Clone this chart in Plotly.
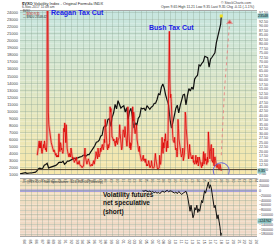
import pandas as pd
import plotly.graph_objects as go

# ---------------- data ----------------
dji_dates = ["1983-01-14"] + [d.strftime("%Y-%m-%d") for d in pd.date_range("1983-03-31", "2017-09-30", freq="QE")] + ["2017-11-06"]
dji_values = [1076,
    1130, 1222, 1233, 1259,
    1165, 1132, 1207, 1212,
    1267, 1336, 1329, 1547,
    1819, 1893, 1768, 1896,
    2305, 2419, 2596, 1939,
    1988, 2142, 2113, 2169,
    2294, 2440, 2693, 2753,
    2707, 2881, 2453, 2634,
    2914, 2907, 3017, 3169,
    3236, 3319, 3272, 3301,
    3436, 3516, 3555, 3754,
    3636, 3625, 3843, 3834,
    4158, 4556, 4789, 5117,
    5588, 5655, 5882, 6448,
    6584, 7673, 7945, 7908,
    8800, 8952, 7843, 9181,
    9786, 10970, 10337, 11497,
    10922, 10448, 10651, 10787,
    9879, 10502, 8848, 10022,
    10404, 9243, 7592, 8342,
    7992, 8985, 9275, 10454,
    10358, 10435, 10080, 10783,
    10504, 10275, 10569, 10718,
    11109, 11150, 11679, 12463,
    12354, 13408, 13896, 13265,
    12263, 11350, 10851, 8776,
    7609, 8447, 9712, 10428,
    10857, 9774, 10788, 11578,
    12320, 12414, 10913, 12218,
    13212, 12880, 13437, 13104,
    14579, 14910, 15130, 16577,
    16458, 16827, 17043, 17823,
    17776, 17620, 16285, 17425,
    17685, 17930, 18308, 19763,
    20663, 21350, 22405, 23548]

vxo_dates = [d.strftime("%Y-%m-15") for d in pd.date_range("1986-01-01", "2017-10-01", freq="MS")] + ["2017-11-06"]
vxo_values = [
    18, 20, 22, 24, 26, 22, 25, 22, 26, 20, 19, 21,          # 1986
    23, 24, 22, 26, 24, 21, 22, 20, 25, 150, 49, 42,         # 1987
    35, 32, 30, 28, 27, 25, 24, 23, 22, 21, 20, 21,          # 1988
    20, 19, 18, 19, 17, 18, 17, 18, 17, 30, 22, 20,          # 1989
    25, 24, 21, 22, 20, 19, 20, 33, 31, 36, 28, 25,          # 1990
    35, 24, 22, 20, 19, 18, 17, 19, 18, 17, 22, 19,          # 1991
    17, 16, 17, 16, 15, 14, 15, 16, 15, 17, 15, 13,          # 1992
    14, 13, 14, 15, 13, 12, 12, 12, 12, 11, 12, 12,          # 1993
    12, 15, 20, 22, 17, 16, 14, 13, 14, 15, 16, 15,          # 1994
    13, 12, 12, 12, 13, 13, 12, 13, 13, 15, 13, 14,          # 1995
    16, 17, 20, 18, 17, 16, 22, 19, 17, 18, 19, 22,          # 1996
    20, 22, 23, 24, 22, 21, 23, 27, 25, 38, 30, 26,          # 1997
    26, 22, 21, 24, 22, 23, 25, 45, 42, 44, 30, 28,          # 1998
    28, 27, 26, 27, 26, 25, 23, 26, 25, 28, 24, 25,          # 1999
    27, 27, 28, 35, 30, 26, 22, 21, 22, 30, 32, 32,          # 2000
    29, 28, 34, 30, 27, 23, 23, 26, 45, 38, 30, 24,          # 2001
    22, 25, 21, 23, 25, 33, 45, 37, 42, 40, 32, 30,          # 2002
    32, 33, 35, 27, 23, 21, 21, 20, 23, 19, 17, 17,          # 2003
    15, 15, 17, 17, 18, 15, 16, 15, 14, 16, 13, 12,          # 2004
    13, 12, 13, 15, 14, 12, 11, 12, 12, 15, 11, 11,          # 2005
    11, 11, 11, 12, 17, 19, 16, 13, 12, 11, 10, 11,          # 2006
    11, 11, 18, 13, 13, 16, 21, 28, 21, 19, 25, 22,          # 2007
    27, 26, 30, 22, 20, 25, 26, 22, 45, 75, 87, 60,          # 2008
    50, 52, 48, 38, 32, 29, 26, 26, 25, 28, 24, 21,          # 2009
    22, 20, 17, 20, 38, 33, 27, 25, 23, 21, 20, 17,          # 2010
    18, 19, 22, 15, 16, 18, 22, 42, 40, 33, 30, 25,          # 2011
    20, 18, 16, 18, 24, 20, 18, 16, 16, 17, 16, 18,          # 2012
    14, 15, 13, 14, 14, 18, 13, 15, 14, 17, 12, 13,          # 2013
    17, 15, 15, 14, 12, 11, 14, 12, 15, 20, 13, 17,          # 2014
    19, 15, 16, 13, 13, 17, 14, 31, 25, 16, 16, 20,          # 2015
    23, 24, 15, 15, 14, 22, 13, 12, 17, 17, 15, 12,          # 2016
    11.5, 11, 12, 13, 10.5, 10, 9.8, 13, 10, 9.7, 9.35]      # 2017

proj_dates = ["2017-11-06", "2018-06-01", "2019-04-15"]
proj_values = [18, 55, 92]

cot_dates = [
    "2004-03-26", "2004-06-30", "2004-09-30", "2004-12-31",
    "2005-03-31", "2005-06-30", "2005-09-30", "2005-12-31",
    "2006-03-31", "2006-06-30", "2006-09-30", "2006-12-31",
    "2007-03-31", "2007-06-30", "2007-09-30", "2007-12-31",
    "2008-03-31", "2008-06-30", "2008-09-30", "2008-12-31",
    "2009-03-31", "2009-06-30", "2009-09-30", "2009-12-31",
    "2010-03-31", "2010-06-30", "2010-09-30", "2010-12-31",
    "2011-03-31", "2011-06-30", "2011-09-30", "2011-12-31",
    "2012-02-15", "2012-04-15", "2012-06-15", "2012-08-15", "2012-10-15", "2012-12-15",
    "2013-02-15", "2013-04-15", "2013-06-15", "2013-08-15", "2013-10-15", "2013-12-15",
    "2014-02-15", "2014-04-15", "2014-06-15", "2014-08-15", "2014-10-15", "2014-12-15",
    "2015-02-15", "2015-04-15", "2015-06-15", "2015-08-15", "2015-10-15", "2015-12-15",
    "2016-02-15", "2016-04-15", "2016-06-15", "2016-08-15", "2016-10-15", "2016-12-15",
    "2017-02-15", "2017-04-15", "2017-06-15", "2017-08-15", "2017-09-15", "2017-10-15", "2017-11-06"]
cot_values = [
    0, -2000, 1500, -3000,
    -4000, -1000, -6000, -3000,
    -8000, -5000, -10000, -6000,
    -12000, -4000, -2000, -6000,
    -3000, 2000, -4000, 0,
    -2000, -6000, -9000, -5000,
    -12000, -3000, -8000, -15000,
    -10000, -5000, -2000, -20000,
    -45000, -70000, -85000, -60000, -95000, -112000,
    -100000, -70000, -80000, -60000, -90000, -75000,
    -85000, -60000, -40000, -50000, -20000, 0,
    -10000, 5000, 20000, 36000, 10000, 25000,
    12000, -20000, -40000, -70000, -60000, -95000,
    -116000, -100000, -140000, -150000, -168000, -186000, -175000]
cot_last_label = -124762

# ---------------- geometry helpers ----------------
W, H = 280, 252
ML, MR, MT, MB = 14, 14, 11, 7
PW, PH = W - ML - MR, H - MT - MB
def px(xp): return (xp - ML) / PW
def py(yp): return (H - MB - yp) / PH

main_dom = [py(181), 1.0]
low_dom = [0.0, py(186)]
FONT = "Liberation Sans, Arial, sans-serif"

fig = go.Figure()

# VXO (pink halo + red line)
fig.add_trace(go.Scatter(x=vxo_dates, y=vxo_values, yaxis="y2", xaxis="x", mode="lines",
                         line=dict(color="rgba(240,110,110,0.45)", width=2.6), hoverinfo="skip"))
fig.add_trace(go.Scatter(x=vxo_dates, y=vxo_values, yaxis="y2", xaxis="x", mode="lines",
                         line=dict(color="#e00000", width=0.8)))
# projection
fig.add_trace(go.Scatter(x=proj_dates, y=proj_values, yaxis="y2", xaxis="x", mode="lines+markers",
                         line=dict(color="#e87878", width=0.8, dash="dot"),
                         marker=dict(symbol=["circle", "circle", "triangle-up"], size=[0, 0, 5], color="#e02020")))
# DJIA
fig.add_trace(go.Scatter(x=dji_dates, y=dji_values, yaxis="y", xaxis="x", mode="lines",
                         line=dict(color="#101010", width=1.2)))
fig.add_trace(go.Scatter(x=[dji_dates[-1]], y=[dji_values[-1]], yaxis="y", xaxis="x", mode="markers",
                         marker=dict(color="#f0e020", size=3, symbol="square")))
# COT net speculative
fig.add_trace(go.Scatter(x=cot_dates, y=cot_values, yaxis="y3", xaxis="x2", mode="lines",
                         line=dict(color="#101010", width=1.0)))

shapes = []
# gradient backgrounds
N = 40
c0, c1 = (200, 230, 224), (247, 232, 172)
for i in range(N):
    t = i / (N - 1)
    col = tuple(int(c0[k] + (c1[k] - c0[k]) * t) for k in range(3))
    y1 = main_dom[1] - (main_dom[1] - main_dom[0]) * i / N
    y0 = main_dom[1] - (main_dom[1] - main_dom[0]) * (i + 1) / N
    shapes.append(dict(type="rect", xref="paper", yref="paper", x0=0, x1=1, y0=y0, y1=y1,
                       fillcolor="rgb(%d,%d,%d)" % col, line=dict(width=0), layer="below"))
d0, d1 = (243, 224, 190), (240, 217, 200)
for i in range(20):
    t = i / 19
    col = tuple(int(d0[k] + (d1[k] - d0[k]) * t) for k in range(3))
    y1 = low_dom[1] - (low_dom[1] - low_dom[0]) * i / 20
    y0 = low_dom[1] - (low_dom[1] - low_dom[0]) * (i + 1) / 20
    shapes.append(dict(type="rect", xref="paper", yref="paper", x0=0, x1=1, y0=y0, y1=y1,
                       fillcolor="rgb(%d,%d,%d)" % col, line=dict(width=0), layer="below"))
# horizontal reference line at VXO 10
shapes.append(dict(type="line", xref="x domain", yref="y2", x0=0, x1=1, y0=10, y1=10,
                   line=dict(color="#4a3a28", width=1)))
# zero line in the lower panel
shapes.append(dict(type="line", xref="x2 domain", yref="y3", x0=0, x1=1, y0=0, y1=0,
                   line=dict(color="#a8a0dc", width=2.5), layer="below"))
# blue circle around last VXO value
shapes.append(dict(type="circle", xref="x", yref="y2", xsizemode="pixel", ysizemode="pixel",
                   xanchor=vxo_dates[-1], yanchor=vxo_values[-1], x0=-8, x1=8, y0=-8, y1=8,
                   line=dict(color="#4040e0", width=0.8)))

ann = []
def txt(x, y, s, size=4, color="#222", xanchor="left", bold=False, **kw):
    ann.append(dict(xref="paper", yref="paper", x=px(x), y=py(y), text=("<b>%s</b>" % s) if bold else s,
                    showarrow=False, xanchor=xanchor, yanchor="middle",
                    font=dict(family=FONT, size=size, color=color), **kw))

txt(14, 2.8, "<b>$VXO</b> Volatility Index - Original Formula INDX", 4)
txt(14, 7, "6-Nov-2017 11:48 am", 3.4, "#444")
txt(262, 2.5, "© StockCharts.com", 3.5, "#444", xanchor="right")
txt(265, 7, "Open 9.65 High 11.21 Low 9.35 Last 9.35 Chg -0.11 (-1.1%)", 3.5, "#333", xanchor="right")
txt(15, 11, "$VXO", 2.7, "#333")
txt(15, 14, "— $VXO 9.35", 2.7, "#d00000")
txt(15, 17, "— $INDU 23548.42", 2.7, "#222")
txt(45, 13.5, "Reagan Tax Cut", 7, "#2020e8", bold=True)
txt(149, 28.5, "Bush Tax Cut", 7, "#2020e8", bold=True)
txt(14, 188.5, "— @VX:COT Net Speculative -124,762.00 (Weekly)", 3.5, "#333")
ann.append(dict(xref="paper", yref="paper", x=px(100), y=py(211), xanchor="left", yanchor="middle",
                text="<b>Volatility futures<br>net speculative<br>(short)</b>", showarrow=False, align="left",
                font=dict(family=FONT, size=6.5, color="#111")))
# last-value tags on right axis
ann.append(dict(xref="paper", yref="y", x=1.0, y=dji_values[-1], xanchor="left", yanchor="middle",
                text="%.0f" % dji_values[-1], showarrow=False, bgcolor="#8cc4c4",
                font=dict(family=FONT, size=3.6, color="#111"), borderpad=0))
ann.append(dict(xref="paper", yref="y2", x=1.0, y=vxo_values[-1], xanchor="left", yanchor="middle",
                text="%.2f" % vxo_values[-1], showarrow=False, bgcolor="#8cc4c4",
                font=dict(family=FONT, size=3.6, color="#111"), borderpad=0))
ann.append(dict(xref="paper", yref="y3", x=1.0, y=cot_last_label, xanchor="left", yanchor="middle",
                text="%d" % cot_last_label, showarrow=False, bgcolor="#8cc4c4",
                font=dict(family=FONT, size=3.6, color="#111"), borderpad=0))

grid = "rgba(140,165,150,0.35)"
xcommon = dict(type="date", range=["1983-01-20", "2024-01-10"], dtick="M12", tick0="1984-01-01",
               tickformat="%y", tickfont=dict(family=FONT, size=4, color="#444"), ticks="",
               showgrid=True, gridcolor=grid, gridwidth=0.5, showline=True, linecolor="#a8a8a8",
               linewidth=0.5, mirror=True, ticklabelstandoff=0)

fig.update_layout(
    width=W, height=H, margin=dict(l=ML, r=MR, t=MT, b=MB),
    paper_bgcolor="white", plot_bgcolor="rgba(0,0,0,0)", showlegend=False,
    xaxis=dict(domain=[0, 1], anchor="y", **xcommon),
    xaxis2=dict(domain=[0, 1], anchor="y3", matches="x", **xcommon),
    yaxis=dict(domain=main_dom, range=[1000, 24270], dtick=1000, tick0=1000, side="left",
               tickfont=dict(family=FONT, size=4, color="#444"), ticks="", tickformat="d",
               showgrid=True, gridcolor=grid, gridwidth=0.5, zeroline=False, ticklabelstandoff=1),
    yaxis2=dict(overlaying="y", side="right", anchor="x", range=[7.3, 98.3], tick0=10, dtick=2.5,
                tickformat=".2f", tickfont=dict(family=FONT, size=3.6, color="#444"), ticks="",
                showgrid=False, zeroline=False, ticklabelstandoff=1),
    yaxis3=dict(domain=low_dom, anchor="x2", side="right", range=[-188000, 48000], dtick=20000,
                tickformat="d", tickfont=dict(family=FONT, size=3.6, color="#444"), ticks="",
                showgrid=True, gridcolor=grid, gridwidth=0.5, zeroline=False, ticklabelstandoff=1),
    shapes=shapes, annotations=ann,
)

fig.write_html("out.html")
